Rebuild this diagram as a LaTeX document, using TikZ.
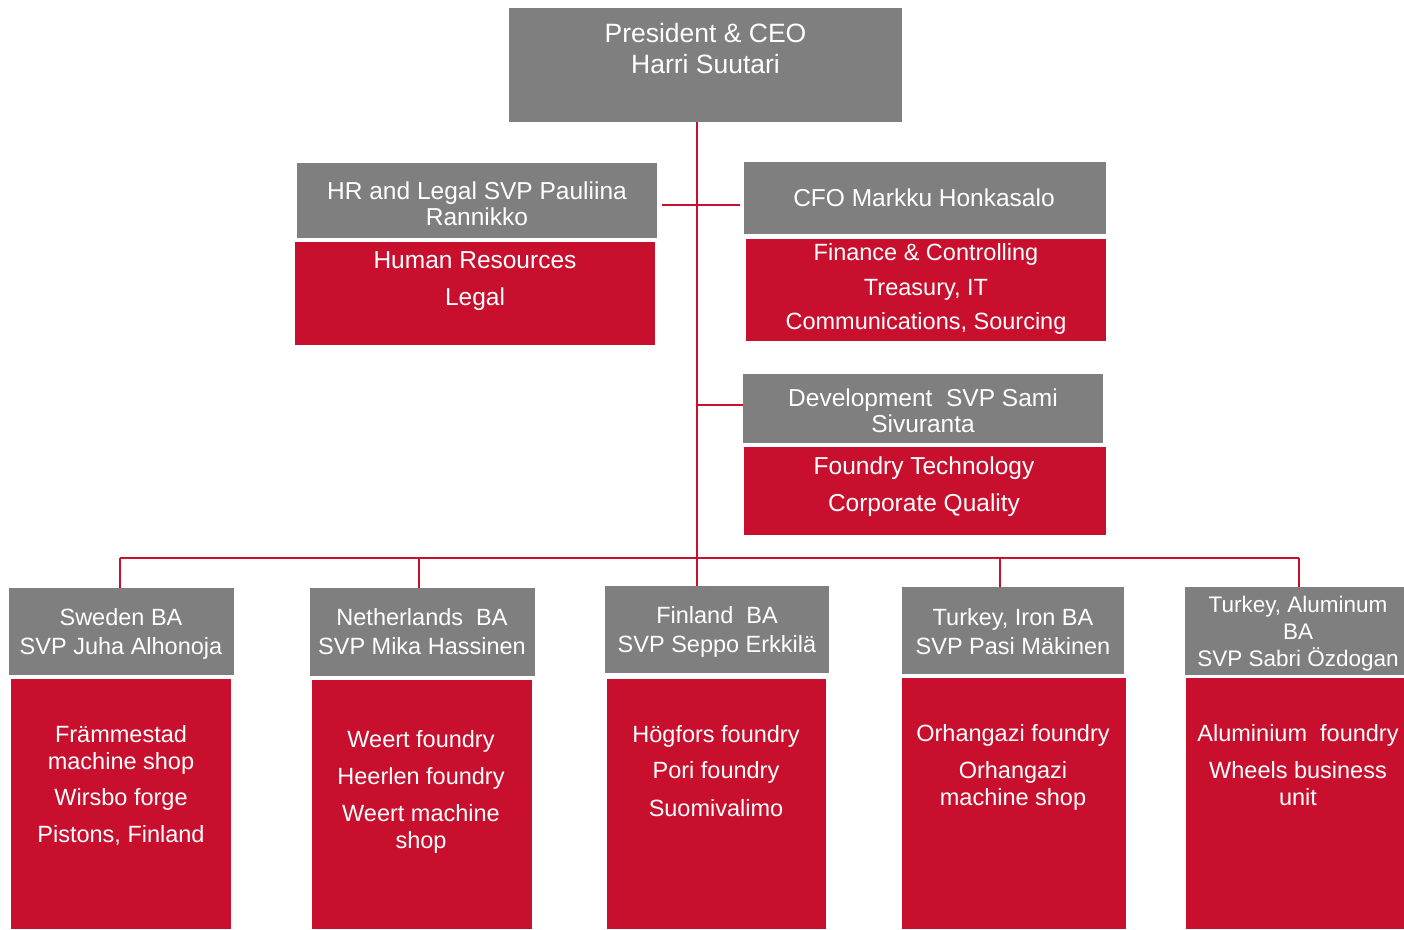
\documentclass[tikz,border=0pt]{standalone}
\usepackage{fontspec}
\setmainfont{Liberation Sans}
\definecolor{boxgray}{RGB}{127,127,127}
\definecolor{boxred}{RGB}{200,16,46}
\definecolor{linered}{RGB}{200,16,46}
\begin{document}
\begin{tikzpicture}[x=1pt,y=-1pt,
  gbox/.style={fill=boxgray,draw=none,inner sep=0,outer sep=0,anchor=north west},
  rbox/.style={fill=boxred,draw=none,inner sep=0,outer sep=0,anchor=north west},
  txt/.style={text=white,align=center,inner sep=0,anchor=center},
  ftop/.style={font=\fontsize{26.5}{31}\selectfont},
  fmid/.style={font=\fontsize{24.5}{26}\selectfont},
  fbot/.style={font=\fontsize{23.5}{27}\selectfont},
  conn/.style={draw=linered,line width=2pt}]
\useasboundingbox (0,0) rectangle (1404,929);
% boxes
\node[gbox,minimum width=393pt,minimum height=114pt] (ceo) at (509,8) {};
\node[gbox,minimum width=360pt,minimum height=75pt] (hrg) at (297,163) {};
\node[rbox,minimum width=360pt,minimum height=103pt] (hrr) at (295,242) {};
\node[gbox,minimum width=362pt,minimum height=72pt] (cfog) at (744,162) {};
\node[rbox,minimum width=360pt,minimum height=102pt] (cfor) at (746,239) {};
\node[gbox,minimum width=360pt,minimum height=69pt] (devg) at (743,374) {};
\node[rbox,minimum width=362pt,minimum height=88pt] (devr) at (744,447) {};
\node[gbox,minimum width=225pt,minimum height=87pt] (swg) at (9,588) {};
\node[rbox,minimum width=220pt,minimum height=250pt] (swr) at (11,679) {};
\node[gbox,minimum width=225pt,minimum height=88pt] (neg) at (310,588) {};
\node[rbox,minimum width=220pt,minimum height=249pt] (ner) at (312,680) {};
\node[gbox,minimum width=224pt,minimum height=87pt] (fig) at (605,586) {};
\node[rbox,minimum width=219pt,minimum height=250pt] (fir) at (607,679) {};
\node[gbox,minimum width=222pt,minimum height=87pt] (tig) at (902,587) {};
\node[rbox,minimum width=224pt,minimum height=251pt] (tir) at (902,678) {};
\node[gbox,minimum width=219pt,minimum height=88pt] (tag) at (1185,587) {};
\node[rbox,minimum width=218pt,minimum height=251pt] (tar) at (1186,678) {};
% texts
\node[txt,ftop] (tceo) at (705.5,48.5) {President \& CEO\\Harri Suutari};
\node[txt,fmid] (thrg) at (477,204) {HR and Legal SVP Pauliina\\Rannikko};
\node[txt,fmid] (thrr) at (475,281) {Human Resources\\[11pt]Legal};
\node[txt,fmid] (tcfog) at (924,198) {CFO Markku Honkasalo};
\node[txt,font=\fontsize{23.5}{26}\selectfont] (tcfor) at (926,289) {Finance \& Controlling\\[8.5pt]Treasury,\ IT\\[8.5pt]Communications,\ Sourcing};
\node[txt,fmid] (tdevg) at (923,411) {Development\ \ SVP Sami\\Sivuranta};
\node[txt,fmid] (tdevr) at (924,487) {Foundry\ Technology\\[11pt]Corporate Quality};
\node[txt,fbot] (tswg) at (121,634) {Sweden\ BA\\[2pt]SVP Juha\ Alhonoja};
\node[txt,fbot] (tswr) at (121,785) {Främmestad\\machine shop\\[9pt]Wirsbo forge\\[10pt]Pistons,\ Finland};
\node[txt,fbot] (tneg) at (422,631.5) {Netherlands\ \ BA\\[2pt]SVP Mika Hassinen};
\node[txt,fbot] (tner) at (421,791.5) {Weert foundry\\[10pt]Heerlen foundry\\[10pt]Weert machine\\shop};
\node[txt,fbot] (tfig) at (717,632) {Finland\ \ BA\\[2pt]SVP Seppo Erkkilä};
\node[txt,fbot] (tfir) at (716,771) {Högfors foundry\\[9pt]Pori foundry\\[11pt]Suomivalimo};
\node[txt,fbot] (ttig) at (1013,631.5) {Turkey,\ Iron BA\\[2pt]SVP Pasi Mäkinen};
\node[txt,fbot] (ttir) at (1013,767.5) {Orhangazi foundry\\[10pt]Orhangazi\\machine shop};
\node[txt,font=\fontsize{22.5}{27}\selectfont] (ttag) at (1298,633.5) {Turkey, Aluminum\\BA\\SVP Sabri Özdogan};
\node[txt,fbot] (ttar) at (1298,765) {Aluminium\ \ foundry\\[10pt]Wheels business\\unit};
% connectors
\coordinate (trunk) at (697,122);
\coordinate (hrl) at (662,205);
\coordinate (cfol) at (740,205);
\coordinate (devj) at (697,405);
\coordinate (busl) at (120,558);
\coordinate (busr) at (1299,558);
\coordinate (dsw) at (120,558);
\coordinate (dne) at (419,558);
\coordinate (dti) at (1000,558);
\coordinate (dta) at (1299,558);
\draw[conn] (trunk) -- (trunk |- fig.north);
\draw[conn] (hrl) -- (cfol);
\draw[conn] (devj) -- (devj -| devg.west);
\draw[conn] (busl) -- (busr);
\draw[conn] (dsw) -- (dsw |- swg.north);
\draw[conn] (dne) -- (dne |- neg.north);
\draw[conn] (dti) -- (dti |- tig.north);
\draw[conn] (dta) -- (dta |- tag.north);
\end{tikzpicture}
\end{document}
